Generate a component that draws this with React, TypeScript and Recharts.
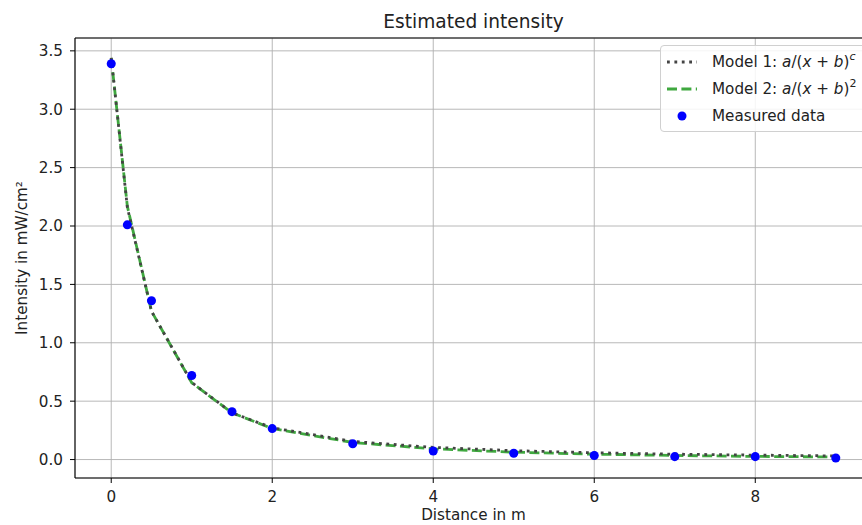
import {
  ComposedChart,
  Line,
  Scatter,
  XAxis,
  YAxis,
  CartesianGrid,
  Legend,
} from "recharts";

const FONT = "'DejaVu Sans', sans-serif";
const GRID = "#b0b0b0";
const GREEN = "#3fa83f";
const DARK = "#444444";
const FS = 15.2;

// distances (m)
const distances = [0, 0.2, 0.5, 1, 1.5, 2, 3, 4, 5, 6, 7, 8, 9];
// measured intensity (mW/cm²)
const measured = [3.39, 2.01, 1.36, 0.72, 0.41, 0.265, 0.135, 0.073, 0.054, 0.035, 0.025, 0.025, 0.013];
// model 1: a/(x+b)^c
const model1 = [3.44, 2.16, 1.27, 0.66, 0.4, 0.272, 0.155, 0.104, 0.076, 0.058, 0.046, 0.038, 0.031];
// model 2: a/(x+b)^2
const model2 = [3.44, 2.17, 1.27, 0.658, 0.4, 0.266, 0.146, 0.092, 0.063, 0.046, 0.035, 0.027, 0.022];

const xTicks = [0, 2, 4, 6, 8];
const yTicks = [0, 0.5, 1, 1.5, 2, 2.5, 3, 3.5];

const rows = distances.map((x, i) => ({
  x,
  m1: model1[i],
  m2: model2[i],
  measured: measured[i],
}));

const tickStyle = { fontSize: FS, fill: "#222", fontFamily: FONT };

function MathLabel({ n, exp }: { n: number; exp: string }) {
  return (
    <span>
      Model {n}: <i>a</i>/(<i>x</i> + <i>b</i>)
      <sup style={{ fontSize: 11, fontStyle: exp === "c" ? "italic" : "normal", verticalAlign: 7, lineHeight: 0 }}>
        {exp}
      </sup>
    </span>
  );
}

function LegendBox() {
  const row = { display: "flex", alignItems: "center", height: 27, whiteSpace: "nowrap" } as const;
  return (
    <div
      style={{
        background: "rgba(255,255,255,0.85)",
        border: "1px solid #d0d0d0",
        borderRadius: 4,
        padding: "2px 6px 2px 5px",
        width: 215,
        fontFamily: FONT,
        fontSize: FS,
        color: "#222",
        boxSizing: "border-box",
      }}
    >
      <div style={row}>
        <svg width={32} height={10} style={{ marginRight: 14 }}>
          <line x1={1} y1={5} x2={31} y2={5} stroke={DARK} strokeWidth={2.8} strokeDasharray="2.8 4.6" />
        </svg>
        <MathLabel n={1} exp="c" />
      </div>
      <div style={row}>
        <svg width={32} height={10} style={{ marginRight: 14 }}>
          <line x1={1} y1={5} x2={31} y2={5} stroke={GREEN} strokeWidth={2.8} strokeDasharray="10 4.4" />
        </svg>
        <MathLabel n={2} exp="2" />
      </div>
      <div style={row}>
        <svg width={32} height={10} style={{ marginRight: 14 }}>
          <circle cx={16} cy={5} r={4.5} fill="blue" />
        </svg>
        <span>Measured data</span>
      </div>
    </div>
  );
}

export default function App() {
  return (
    <div
      style={{
        position: "absolute",
        left: 0,
        top: 0,
        width: 862,
        height: 525,
        overflow: "hidden",
        background: "#fff",
      }}
    >
      <ComposedChart
        width={880}
        height={525}
        data={rows}
        margin={{ top: 0, right: 0, bottom: 0, left: 0 }}
      >
        <CartesianGrid stroke={GRID} strokeWidth={0.9} />
        <XAxis
          dataKey="x"
          type="number"
          domain={[-0.45, 9.45]}
          ticks={xTicks}
          allowDataOverflow
          height={47}
          tick={tickStyle}
          tickSize={5}
          tickMargin={8}
          axisLine={{ stroke: "#000", strokeWidth: 1.1 }}
          tickLine={{ stroke: "#000" }}
          label={({ viewBox }: any) => (
            <text
              x={viewBox.x + viewBox.width / 2}
              y={viewBox.y + 42}
              textAnchor="middle"
              fontFamily={FONT}
              fontSize={FS}
              fill="#222"
            >
              Distance in m
            </text>
          )}
        />
        <XAxis
          xAxisId="top"
          dataKey="x"
          type="number"
          orientation="top"
          domain={[-0.45, 9.45]}
          height={38}
          tick={false}
          tickLine={false}
          axisLine={{ stroke: "#000", strokeWidth: 1.1 }}
          label={({ viewBox }: any) => (
            <text
              x={viewBox.x + viewBox.width / 2}
              y={viewBox.y + 21}
              textAnchor="middle"
              dominantBaseline="central"
              fontFamily={FONT}
              fontSize={18.6}
              fill="#222"
            >
              Estimated intensity
            </text>
          )}
        />
        <YAxis
          type="number"
          domain={[-0.158, 3.61]}
          ticks={yTicks}
          allowDataOverflow
          width={75}
          tick={tickStyle}
          tickSize={5}
          tickMargin={7}
          tickFormatter={(v: number) => v.toFixed(1)}
          axisLine={{ stroke: "#000", strokeWidth: 1.1 }}
          tickLine={{ stroke: "#000" }}
          label={({ viewBox }: any) => {
            const cx = viewBox.x + 22;
            const cy = viewBox.y + viewBox.height / 2;
            return (
              <text
                x={cx}
                y={cy}
                transform={`rotate(-90 ${cx} ${cy})`}
                textAnchor="middle"
                dominantBaseline="central"
                fontFamily={FONT}
                fontSize={FS}
                fill="#222"
              >
                Intensity in mW/cm²
              </text>
            );
          }}
        />
        <YAxis
          yAxisId="right"
          orientation="right"
          width={8}
          tick={false}
          tickLine={false}
          axisLine={{ stroke: "#000", strokeWidth: 1.1 }}
        />
        <Legend
          layout="horizontal"
          verticalAlign="middle"
          align="center"
          content={() => <LegendBox />}
          wrapperStyle={{ top: 45, left: 660, width: 215 }}
        />
        <Line
          dataKey="m2"
          type="linear"
          stroke={GREEN}
          strokeWidth={2.8}
          strokeDasharray="10 4.4"
          dot={false}
          activeDot={false}
          isAnimationActive={false}
        />
        <Line
          dataKey="m1"
          type="linear"
          stroke={DARK}
          strokeWidth={2.8}
          strokeDasharray="2.8 4.6"
          dot={false}
          activeDot={false}
          isAnimationActive={false}
        />
        <Scatter dataKey="measured" fill="blue" isAnimationActive={false} />
      </ComposedChart>
    </div>
  );
}
